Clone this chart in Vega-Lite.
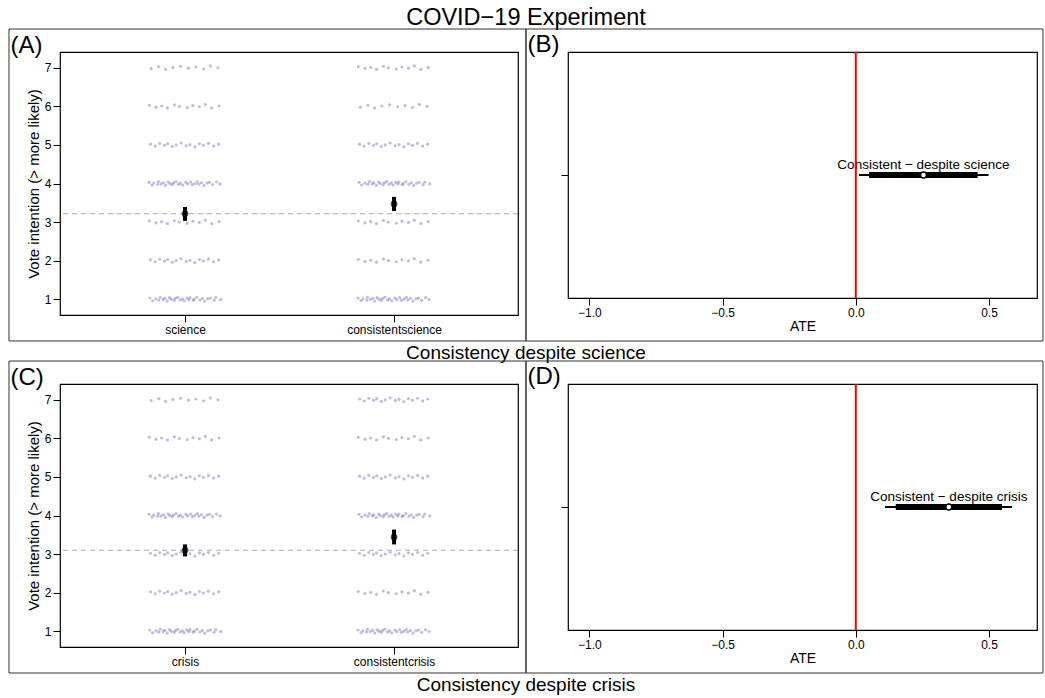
{
 "$schema":"https://vega.github.io/schema/vega-lite/v6.json",
 "padding":{"left":7,"top":6,"right":3,"bottom":3},
 "background":"white",
 "title":{"text":"COVID−19 Experiment","fontSize":23.5,"fontWeight":"normal","anchor":"middle","offset":-2,"color":"black"},
 "config":{"font":"Liberation Sans","view":{"stroke":"black","strokeWidth":1.2},
  "axis":{"domain":false,"grid":false,"tickColor":"black","tickSize":7,"tickWidth":1,"labelColor":"black","labelFontSize":12,"labelPadding":2,"titleColor":"black","titleFontSize":14,"titleFontWeight":"normal","titlePadding":3},
  "title":{"color":"black","fontWeight":"normal"}},
 "datasets":{
  "pts":[
   {"p":"A","x":[0.838,0.875,0.907,0.942,0.979,1.017,1.052,1.089,1.121,1.158],"y":[6.98,7.03,6.96,7.01,7.04,6.99,7.02,6.97,7.05,7]},
   {"p":"A","x":[0.829,0.861,0.888,0.916,0.949,0.973,1.011,1.038,1.069,1.097,1.128,1.163],"y":[6.03,5.98,6.01,5.96,6.04,6,5.97,6.02,5.99,6.05,5.96,6.01]},
   {"p":"A","x":[0.835,0.857,0.879,0.902,0.917,0.939,0.958,0.981,1.006,1.024,1.047,1.069,1.088,1.112,1.137,1.161],"y":[5.02,4.97,5.04,4.99,5.03,4.96,5,5.05,4.98,5.01,4.95,5.03,4.99,5.04,4.97,5.02]},
   {"p":"A","x":[0.828,0.842,0.851,0.869,0.873,0.886,0.898,0.907,0.919,0.928,0.939,0.945,0.957,0.969,0.978,0.989,1.004,1.013,1.027,1.035,1.048,1.059,1.066,1.078,1.091,1.105,1.117,1.132,1.151,1.168],"y":[4.03,3.96,4.01,3.98,4.05,3.99,4.02,3.95,4.04,4,3.97,4.02,4.05,3.98,4.01,3.96,4.03,3.99,4.04,3.97,4,4.05,3.98,4.02,3.95,4.01,4.03,3.97,4.04,3.99]},
   {"p":"A","x":[0.829,0.861,0.888,0.916,0.949,0.973,1.011,1.038,1.069,1.097,1.128,1.163],"y":[3.03,2.98,3.01,2.96,3.04,3,2.97,3.02,2.99,3.05,2.96,3.01]},
   {"p":"A","x":[0.835,0.857,0.879,0.902,0.917,0.939,0.958,0.981,1.006,1.024,1.047,1.069,1.088,1.112,1.137,1.161],"y":[2.02,1.97,2.04,1.99,2.03,1.96,2,2.05,1.98,2.01,1.95,2.03,1.99,2.04,1.97,2.02]},
   {"p":"A","x":[0.832,0.845,0.861,0.875,0.882,0.896,0.903,0.915,0.926,0.934,0.948,0.954,0.965,0.976,0.987,0.996,1.009,1.018,1.024,1.039,1.044,1.057,1.071,1.083,1.094,1.108,1.121,1.139,1.147,1.171],"y":[1.03,0.96,1.01,0.98,1.05,0.99,1.02,0.95,1.04,1,0.97,1.02,1.05,0.98,1.01,0.96,1.03,0.99,1.04,0.97,1,1.05,0.98,1.02,0.95,1.01,1.03,0.97,1.04,0.99]},
   {"p":"A","x":[1.829,1.861,1.888,1.916,1.949,1.973,2.011,2.038,2.069,2.097,2.128,2.163],"y":[7.03,6.98,7.01,6.96,7.04,7,6.97,7.02,6.99,7.05,6.96,7.01]},
   {"p":"A","x":[1.838,1.875,1.907,1.942,1.979,2.017,2.052,2.089,2.121,2.158],"y":[5.98,6.03,5.96,6.01,6.04,5.99,6.02,5.97,6.05,6]},
   {"p":"A","x":[1.835,1.857,1.879,1.902,1.917,1.939,1.958,1.981,2.006,2.024,2.047,2.069,2.088,2.112,2.137,2.161],"y":[5.02,4.97,5.04,4.99,5.03,4.96,5,5.05,4.98,5.01,4.95,5.03,4.99,5.04,4.97,5.02]},
   {"p":"A","x":[1.832,1.845,1.861,1.875,1.882,1.896,1.903,1.915,1.926,1.934,1.948,1.954,1.965,1.976,1.987,1.996,2.009,2.018,2.024,2.039,2.044,2.057,2.071,2.083,2.094,2.108,2.121,2.139,2.147,2.171],"y":[4.03,3.96,4.01,3.98,4.05,3.99,4.02,3.95,4.04,4,3.97,4.02,4.05,3.98,4.01,3.96,4.03,3.99,4.04,3.97,4,4.05,3.98,4.02,3.95,4.01,4.03,3.97,4.04,3.99]},
   {"p":"A","x":[1.829,1.861,1.888,1.916,1.949,1.973,2.011,2.038,2.069,2.097,2.128,2.163],"y":[3.03,2.98,3.01,2.96,3.04,3,2.97,3.02,2.99,3.05,2.96,3.01]},
   {"p":"A","x":[1.829,1.861,1.888,1.916,1.949,1.973,2.011,2.038,2.069,2.097,2.128,2.163],"y":[2.03,1.98,2.01,1.96,2.04,2,1.97,2.02,1.99,2.05,1.96,2.01]},
   {"p":"A","x":[1.828,1.842,1.851,1.869,1.873,1.886,1.898,1.907,1.919,1.928,1.939,1.945,1.957,1.969,1.978,1.989,2.004,2.013,2.027,2.035,2.048,2.059,2.066,2.078,2.091,2.105,2.117,2.132,2.151,2.168],"y":[1.03,0.96,1.01,0.98,1.05,0.99,1.02,0.95,1.04,1,0.97,1.02,1.05,0.98,1.01,0.96,1.03,0.99,1.04,0.97,1,1.05,0.98,1.02,0.95,1.01,1.03,0.97,1.04,0.99]},
   {"p":"C","x":[0.838,0.875,0.907,0.942,0.979,1.017,1.052,1.089,1.121,1.158],"y":[6.98,7.03,6.96,7.01,7.04,6.99,7.02,6.97,7.05,7]},
   {"p":"C","x":[0.829,0.861,0.888,0.916,0.949,0.973,1.011,1.038,1.069,1.097,1.128,1.163],"y":[6.03,5.98,6.01,5.96,6.04,6,5.97,6.02,5.99,6.05,5.96,6.01]},
   {"p":"C","x":[0.835,0.857,0.879,0.902,0.917,0.939,0.958,0.981,1.006,1.024,1.047,1.069,1.088,1.112,1.137,1.161],"y":[5.02,4.97,5.04,4.99,5.03,4.96,5,5.05,4.98,5.01,4.95,5.03,4.99,5.04,4.97,5.02]},
   {"p":"C","x":[0.828,0.842,0.851,0.869,0.873,0.886,0.898,0.907,0.919,0.928,0.939,0.945,0.957,0.969,0.978,0.989,1.004,1.013,1.027,1.035,1.048,1.059,1.066,1.078,1.091,1.105,1.117,1.132,1.151,1.168],"y":[4.03,3.96,4.01,3.98,4.05,3.99,4.02,3.95,4.04,4,3.97,4.02,4.05,3.98,4.01,3.96,4.03,3.99,4.04,3.97,4,4.05,3.98,4.02,3.95,4.01,4.03,3.97,4.04,3.99]},
   {"p":"C","x":[0.835,0.857,0.879,0.902,0.917,0.939,0.958,0.981,1.006,1.024,1.047,1.069,1.088,1.112,1.137,1.161],"y":[3.02,2.97,3.04,2.99,3.03,2.96,3,3.05,2.98,3.01,2.95,3.03,2.99,3.04,2.97,3.02]},
   {"p":"C","x":[0.835,0.857,0.879,0.902,0.917,0.939,0.958,0.981,1.006,1.024,1.047,1.069,1.088,1.112,1.137,1.161],"y":[2.02,1.97,2.04,1.99,2.03,1.96,2,2.05,1.98,2.01,1.95,2.03,1.99,2.04,1.97,2.02]},
   {"p":"C","x":[0.832,0.845,0.861,0.875,0.882,0.896,0.903,0.915,0.926,0.934,0.948,0.954,0.965,0.976,0.987,0.996,1.009,1.018,1.024,1.039,1.044,1.057,1.071,1.083,1.094,1.108,1.121,1.139,1.147,1.171],"y":[1.03,0.96,1.01,0.98,1.05,0.99,1.02,0.95,1.04,1,0.97,1.02,1.05,0.98,1.01,0.96,1.03,0.99,1.04,0.97,1,1.05,0.98,1.02,0.95,1.01,1.03,0.97,1.04,0.99]},
   {"p":"C","x":[1.835,1.857,1.879,1.902,1.917,1.939,1.958,1.981,2.006,2.024,2.047,2.069,2.088,2.112,2.137,2.161],"y":[7.02,6.97,7.04,6.99,7.03,6.96,7,7.05,6.98,7.01,6.95,7.03,6.99,7.04,6.97,7.02]},
   {"p":"C","x":[1.829,1.861,1.888,1.916,1.949,1.973,2.011,2.038,2.069,2.097,2.128,2.163],"y":[6.03,5.98,6.01,5.96,6.04,6,5.97,6.02,5.99,6.05,5.96,6.01]},
   {"p":"C","x":[1.835,1.857,1.879,1.902,1.917,1.939,1.958,1.981,2.006,2.024,2.047,2.069,2.088,2.112,2.137,2.161],"y":[5.02,4.97,5.04,4.99,5.03,4.96,5,5.05,4.98,5.01,4.95,5.03,4.99,5.04,4.97,5.02]},
   {"p":"C","x":[1.832,1.845,1.861,1.875,1.882,1.896,1.903,1.915,1.926,1.934,1.948,1.954,1.965,1.976,1.987,1.996,2.009,2.018,2.024,2.039,2.044,2.057,2.071,2.083,2.094,2.108,2.121,2.139,2.147,2.171],"y":[4.03,3.96,4.01,3.98,4.05,3.99,4.02,3.95,4.04,4,3.97,4.02,4.05,3.98,4.01,3.96,4.03,3.99,4.04,3.97,4,4.05,3.98,4.02,3.95,4.01,4.03,3.97,4.04,3.99]},
   {"p":"C","x":[1.835,1.857,1.879,1.902,1.917,1.939,1.958,1.981,2.006,2.024,2.047,2.069,2.088,2.112,2.137,2.161],"y":[3.02,2.97,3.04,2.99,3.03,2.96,3,3.05,2.98,3.01,2.95,3.03,2.99,3.04,2.97,3.02]},
   {"p":"C","x":[1.829,1.861,1.888,1.916,1.949,1.973,2.011,2.038,2.069,2.097,2.128,2.163],"y":[2.03,1.98,2.01,1.96,2.04,2,1.97,2.02,1.99,2.05,1.96,2.01]},
   {"p":"C","x":[1.828,1.842,1.851,1.869,1.873,1.886,1.898,1.907,1.919,1.928,1.939,1.945,1.957,1.969,1.978,1.989,2.004,2.013,2.027,2.035,2.048,2.059,2.066,2.078,2.091,2.105,2.117,2.132,2.151,2.168],"y":[1.03,0.96,1.01,0.98,1.05,0.99,1.02,0.95,1.04,1,0.97,1.02,1.05,0.98,1.01,0.96,1.03,0.99,1.04,0.97,1,1.05,0.98,1.02,0.95,1.01,1.03,0.97,1.04,0.99]}
  ],
  "est":[
   {"p":"A","g":1,"m":3.215,"lo":3.03,"hi":3.39},
   {"p":"A","g":2,"m":3.47,"lo":3.285,"hi":3.655},
   {"p":"C","g":1,"m":3.1,"lo":2.94,"hi":3.25},
   {"p":"C","g":2,"m":3.44,"lo":3.25,"hi":3.635}
  ],
  "ate":[
   {"p":"B","lab":"Consistent − despite science","est":0.254,"lo90":0.05,"hi90":0.457,"lo95":0.012,"hi95":0.498},
   {"p":"D","lab":"Consistent − despite crisis","est":0.349,"lo90":0.15,"hi90":0.549,"lo95":0.11,"hi95":0.586}
  ]
 },
 "spacing":-5,
 "vconcat":[
  {"spacing":-4,
   "title":{"text":"Consistency despite science","orient":"bottom","fontSize":19,"fontWeight":"normal","anchor":"middle","offset":2},
   "hconcat":[
    {"width":458,"height":263,
     "title":{"text":"(A)","anchor":"start","frame":"bounds","fontSize":24,"fontWeight":"normal","offset":-29,"dx":2},
     "layer":[
      {"data":{"values":[{}]},"mark":{"type":"rect","filled":false,"stroke":"#333333","strokeWidth":1},
       "encoding":{"x":{"datum":0.158,"type":"quantitative","scale":{"domain":[0.402,2.593],"nice":false,"zero":false},"axis":{"title":null,"values":[1,2],"labelExpr":"datum.value==1?'science':'consistentscience'"}},"x2":{"datum":2.631},
        "y":{"datum":8.006,"type":"quantitative","scale":{"domain":[0.59,7.41],"nice":false,"zero":false},"axis":{"title":"Vote intention (> more likely)","titleFontSize":15,"values":[1,2,3,4,5,6,7]}},"y2":{"datum":-0.084}}},
      {"data":{"name":"pts"},"transform":[{"filter":"datum.p=='A'"},{"flatten":["x","y"]}],
       "mark":{"type":"circle","size":10,"color":"#5050b8","opacity":0.38},
       "encoding":{"x":{"field":"x","type":"quantitative"},"y":{"field":"y","type":"quantitative"}}},
      {"data":{"name":"est"},"transform":[{"filter":"datum.p=='A' && datum.g==1"}],"mark":{"type":"rule","color":"#aaaaaa","strokeDash":[5,4],"strokeWidth":1},
       "encoding":{"y":{"field":"m","type":"quantitative"}}},
      {"data":{"name":"est"},"transform":[{"filter":"datum.p=='A'"}],"mark":{"type":"circle","size":45,"color":"#444444","opacity":1},
       "encoding":{"x":{"field":"g","type":"quantitative"},"y":{"field":"m","type":"quantitative"}}},
      {"data":{"name":"est"},"transform":[{"filter":"datum.p=='A'"}],"mark":{"type":"rule","color":"black","strokeWidth":4},
       "encoding":{"x":{"field":"g","type":"quantitative"},"y":{"field":"lo","type":"quantitative"},"y2":{"field":"hi"}}}
     ]},
    {"width":469,"height":246,
     "title":{"text":"(B)","anchor":"start","frame":"bounds","fontSize":24,"fontWeight":"normal","offset":-29,"dx":2},
     "layer":[
      {"data":{"values":[{}]},"mark":{"type":"rect","filled":false,"stroke":"#333333","strokeWidth":1},
       "encoding":{"x":{"datum":-1.2376,"type":"quantitative","scale":{"domain":[-1.08,0.68],"nice":false,"zero":false},"axis":{"values":[-1,-0.5,0,0.5],"format":".1f","title":"ATE","titlePadding":1}},
        "x2":{"datum":0.7025},
        "y":{"datum":2.187,"type":"quantitative","scale":{"domain":[0,2],"nice":false,"zero":false},"axis":{"values":[1],"labels":false,"title":null}},
        "y2":{"datum":-0.3496}}},
      {"data":{"name":"ate"},"transform":[{"filter":"datum.p=='B'"}],"mark":{"type":"rule","color":"black","strokeWidth":2},
       "encoding":{"x":{"field":"lo95","type":"quantitative"},"x2":{"field":"hi95"},"y":{"datum":1,"type":"quantitative"}}},
      {"data":{"name":"ate"},"transform":[{"filter":"datum.p=='B'"}],"mark":{"type":"rule","color":"black","strokeWidth":6},
       "encoding":{"x":{"field":"lo90","type":"quantitative"},"x2":{"field":"hi90"},"y":{"datum":1,"type":"quantitative"}}},
      {"data":{"name":"ate"},"transform":[{"filter":"datum.p=='B'"}],"mark":{"type":"point","shape":"circle","filled":true,"fill":"white","stroke":"black","strokeWidth":1.5,"size":36,"opacity":1},
       "encoding":{"x":{"field":"est","type":"quantitative"},"y":{"datum":1,"type":"quantitative"}}},
      {"data":{"name":"ate"},"transform":[{"filter":"datum.p=='B'"}],"mark":{"type":"text","fontSize":13.5,"dy":-6,"baseline":"alphabetic","color":"black"},
       "encoding":{"x":{"field":"est","type":"quantitative"},"y":{"datum":1,"type":"quantitative"},"text":{"field":"lab"}}},
      {"data":{"values":[{}]},"mark":{"type":"rule","color":"red","strokeWidth":2},"encoding":{"x":{"datum":0,"type":"quantitative"}}}
     ]}
   ]},
  {"spacing":-4,
   "title":{"text":"Consistency despite crisis","orient":"bottom","fontSize":19,"fontWeight":"normal","anchor":"middle","offset":2},
   "hconcat":[
    {"width":458,"height":263,
     "title":{"text":"(C)","anchor":"start","frame":"bounds","fontSize":24,"fontWeight":"normal","offset":-29,"dx":2},
     "layer":[
      {"data":{"values":[{}]},"mark":{"type":"rect","filled":false,"stroke":"#333333","strokeWidth":1},
       "encoding":{"x":{"datum":0.158,"type":"quantitative","scale":{"domain":[0.402,2.593],"nice":false,"zero":false},"axis":{"title":null,"values":[1,2],"labelExpr":"datum.value==1?'crisis':'consistentcrisis'"}},"x2":{"datum":2.631},
        "y":{"datum":8.006,"type":"quantitative","scale":{"domain":[0.59,7.41],"nice":false,"zero":false},"axis":{"title":"Vote intention (> more likely)","titleFontSize":15,"values":[1,2,3,4,5,6,7]}},"y2":{"datum":-0.084}}},
      {"data":{"name":"pts"},"transform":[{"filter":"datum.p=='C'"},{"flatten":["x","y"]}],
       "mark":{"type":"circle","size":10,"color":"#5050b8","opacity":0.38},
       "encoding":{"x":{"field":"x","type":"quantitative"},"y":{"field":"y","type":"quantitative"}}},
      {"data":{"name":"est"},"transform":[{"filter":"datum.p=='C' && datum.g==1"}],"mark":{"type":"rule","color":"#aaaaaa","strokeDash":[5,4],"strokeWidth":1},
       "encoding":{"y":{"field":"m","type":"quantitative"}}},
      {"data":{"name":"est"},"transform":[{"filter":"datum.p=='C'"}],"mark":{"type":"circle","size":45,"color":"#444444","opacity":1},
       "encoding":{"x":{"field":"g","type":"quantitative"},"y":{"field":"m","type":"quantitative"}}},
      {"data":{"name":"est"},"transform":[{"filter":"datum.p=='C'"}],"mark":{"type":"rule","color":"black","strokeWidth":4},
       "encoding":{"x":{"field":"g","type":"quantitative"},"y":{"field":"lo","type":"quantitative"},"y2":{"field":"hi"}}}
     ]},
    {"width":469,"height":246,
     "title":{"text":"(D)","anchor":"start","frame":"bounds","fontSize":24,"fontWeight":"normal","offset":-29,"dx":2},
     "layer":[
      {"data":{"values":[{}]},"mark":{"type":"rect","filled":false,"stroke":"#333333","strokeWidth":1},
       "encoding":{"x":{"datum":-1.2376,"type":"quantitative","scale":{"domain":[-1.08,0.68],"nice":false,"zero":false},"axis":{"values":[-1,-0.5,0,0.5],"format":".1f","title":"ATE","titlePadding":1}},
        "x2":{"datum":0.7025},
        "y":{"datum":2.187,"type":"quantitative","scale":{"domain":[0,2],"nice":false,"zero":false},"axis":{"values":[1],"labels":false,"title":null}},
        "y2":{"datum":-0.3496}}},
      {"data":{"name":"ate"},"transform":[{"filter":"datum.p=='D'"}],"mark":{"type":"rule","color":"black","strokeWidth":2},
       "encoding":{"x":{"field":"lo95","type":"quantitative"},"x2":{"field":"hi95"},"y":{"datum":1,"type":"quantitative"}}},
      {"data":{"name":"ate"},"transform":[{"filter":"datum.p=='D'"}],"mark":{"type":"rule","color":"black","strokeWidth":6},
       "encoding":{"x":{"field":"lo90","type":"quantitative"},"x2":{"field":"hi90"},"y":{"datum":1,"type":"quantitative"}}},
      {"data":{"name":"ate"},"transform":[{"filter":"datum.p=='D'"}],"mark":{"type":"point","shape":"circle","filled":true,"fill":"white","stroke":"black","strokeWidth":1.5,"size":36,"opacity":1},
       "encoding":{"x":{"field":"est","type":"quantitative"},"y":{"datum":1,"type":"quantitative"}}},
      {"data":{"name":"ate"},"transform":[{"filter":"datum.p=='D'"}],"mark":{"type":"text","fontSize":13.5,"dy":-6,"baseline":"alphabetic","color":"black"},
       "encoding":{"x":{"field":"est","type":"quantitative"},"y":{"datum":1,"type":"quantitative"},"text":{"field":"lab"}}},
      {"data":{"values":[{}]},"mark":{"type":"rule","color":"red","strokeWidth":2},"encoding":{"x":{"datum":0,"type":"quantitative"}}}
     ]}
   ]}
 ]
}
